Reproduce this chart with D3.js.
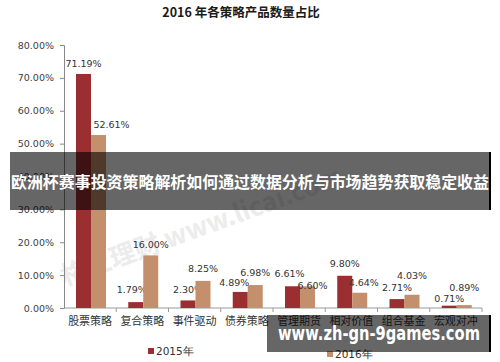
<!DOCTYPE html>
<html><head><meta charset="utf-8">
<script src="https://cdn.jsdelivr.net/npm/d3@7"></script>
<style>
html,body{margin:0;padding:0;background:#fff;}
svg{display:block;}
</style></head>
<body>
<svg id="chart" width="500" height="362"></svg>
<script>
const categories = ["股票策略","复合策略","事件驱动","债券策略","管理期货","相对价值","组合基金","宏观对冲"];
const series2015 = [71.19, 1.79, 2.30, 4.89, 6.61, 9.80, 2.71, 0.71];
const series2016 = [52.61, 16.00, 8.25, 6.98, 6.60, 4.64, 4.03, 0.89];
const seriesNames = ["2015年","2016年"];
const yTicks = [0,10,20,30,40,50,60,70,80];
const titleText = "2016 年各策略产品数量占比";
const bannerText = "欧洲杯赛事投资策略解析如何通过数据分析与市场趋势获取稳定收益";
const urlText = "www.zh-gn-9games.com";

// label nudges (style only) [dx, dy] relative to bar centre / top
const nudge2015 = [[0,-10],[-4,-12],[0,-11],[-6,-9],[-3,-13],[0,-12],[0,-11],[0,-7]];
const nudge2016 = [[13,-10],[0,-11],[0,-12],[0,-12],[5,-1],[4,-10],[0,-19],[0,-17]];

const colors = ["#9a2e31","#c38f6c"];
const svg = d3.select("#chart");
const font = "'DejaVu Sans', Verdana, sans-serif";
const cjk = "'Noto Sans CJK SC', sans-serif";

const x = d3.scaleBand().domain(categories).range([64,482]).paddingInner(0).paddingOuter(0);
const x1 = d3.scaleBand().domain(seriesNames).range([12,42]);
const y = d3.scaleLinear().domain([0,80]).range([308,45]);

// watermark
const wm = svg.append("g").attr("transform","translate(205,235) rotate(-20)");
wm.append("text").attr("x",0).attr("y",0).attr("text-anchor","middle")
  .attr("font-family",cjk).attr("font-size",26).attr("font-weight","bold")
  .attr("fill","#ececec").text("格上理财 www.licai.com");

// title
svg.append("text").attr("x",241).attr("y",17).attr("text-anchor","middle")
  .attr("font-family",cjk).attr("font-weight","bold").attr("font-size",12.5)
  .attr("fill","#1a1a1a").text(titleText);

// y axis
const yAxis = svg.append("g").attr("transform","translate(64,0)")
  .call(d3.axisLeft(y).tickValues(yTicks).tickSize(4).tickPadding(6).tickFormat(d=>d3.format(".2f")(d)+"%"));
yAxis.select(".domain").attr("stroke","#888");
yAxis.selectAll(".tick line").attr("stroke","#888");
yAxis.selectAll("text").attr("font-family",font).attr("font-size",9.5).attr("fill","#404040");

// x axis
const xAxis = svg.append("g").attr("transform","translate(0,308)")
  .call(d3.axisBottom(x).tickSize(0).tickPadding(9));
xAxis.select(".domain").attr("stroke","#999").attr("d","M64,0H482");
xAxis.selectAll("text").attr("font-family",cjk).attr("font-size",11).attr("fill","#333");
const bounds = categories.map(c=>x(c)).concat([x(categories[categories.length-1])+x.bandwidth()]);
svg.append("g").selectAll("line").data(bounds.slice(1)).join("line")
  .attr("x1",d=>d).attr("x2",d=>d).attr("y1",308).attr("y2",312).attr("stroke","#999");

// bars
const data = [series2015, series2016];
data.forEach((vals, si) => {
  const g = svg.append("g");
  g.selectAll("rect").data(vals).join("rect")
    .attr("x",(d,i)=>x(categories[i])+x1(seriesNames[si]))
    .attr("y",d=>y(d)).attr("width",x1.bandwidth()).attr("height",d=>y(0)-y(d))
    .attr("fill",colors[si]);
  const nudge = si===0 ? nudge2015 : nudge2016;
  g.selectAll("text").data(vals).join("text")
    .attr("x",(d,i)=>x(categories[i])+x1(seriesNames[si])+x1.bandwidth()/2+nudge[i][0])
    .attr("y",(d,i)=>y(d)+nudge[i][1]).attr("dy","0.35em")
    .attr("text-anchor","middle").attr("font-family",font).attr("font-size",9.5)
    .attr("fill","#333").text(d=>d3.format(".2f")(d)+"%");
});

// legend
const legendX = [148, 327];
seriesNames.forEach((n,i)=>{
  svg.append("rect").attr("x",legendX[i]).attr("y",351-3+i*3).attr("width",6).attr("height",6).attr("fill",colors[i]);
  svg.append("text").attr("x",legendX[i]+8).attr("y",351+i*3).attr("dy","0.35em")
    .attr("font-family",font).attr("font-size",10.5).attr("fill","#333").text(n);
});

// overlay banners
svg.append("rect").attr("x",10).attr("y",152).attr("width",480).attr("height",58).attr("fill","rgba(0,0,0,0.6)");
svg.append("rect").attr("x",489).attr("y",152).attr("width",2).attr("height",58).attr("fill","#000");
svg.append("text").attr("x",250).attr("y",182).attr("dy","0.35em").attr("text-anchor","middle")
  .attr("font-family",cjk).attr("font-weight","bold").attr("font-size",16)
  .attr("textLength",478).attr("lengthAdjust","spacingAndGlyphs")
  .attr("fill","#fff").text(bannerText);

svg.append("rect").attr("x",267).attr("y",315).attr("width",224).attr("height",37).attr("fill","rgba(0,0,0,0.6)");
svg.append("rect").attr("x",489).attr("y",315).attr("width",2).attr("height",37).attr("fill","#000");
svg.append("text").attr("x",379).attr("y",333).attr("dy","0.35em").attr("text-anchor","middle")
  .attr("font-family","'DejaVu Sans', sans-serif").attr("font-weight","bold").attr("font-size",19)
  .attr("textLength",202).attr("lengthAdjust","spacingAndGlyphs")
  .attr("fill","#fff").text(urlText);
</script>
</body></html>
